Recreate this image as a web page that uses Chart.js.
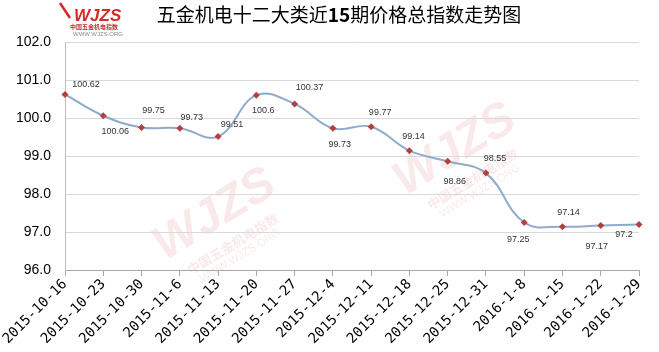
<!DOCTYPE html>
<html><head><meta charset="utf-8">
<script src="https://cdn.jsdelivr.net/npm/chart.js@4/dist/chart.umd.min.js"></script>
<style>html,body{margin:0;padding:0;background:#fff}#wrap{width:659px;height:352px;position:relative}</style>
</head><body><div id="wrap"><canvas id="c" width="659" height="352"></canvas></div>
<script>
const categories = ["2015-10-16","2015-10-23","2015-10-30","2015-11-6","2015-11-13","2015-11-20","2015-11-27","2015-12-4","2015-12-11","2015-12-18","2015-12-25","2015-12-31","2016-1-8","2016-1-15","2016-1-22","2016-1-29"];
const indexValues = [100.62,100.06,99.75,99.73,99.51,100.6,100.37,99.73,99.77,99.14,98.86,98.55,97.25,97.14,97.17,97.2];
const yMin = 96.0, yMax = 102.0, yStep = 0.5;
const titleParts = [["五金机电十二大类近",false],["15",true],["期价格总指数走势图",false]];
// label placement offsets (px) relative to each point
const labelDX = [21,12,12,12,14,7,15,7,9,4,7,9,-6,6,-4,-15];
const labelDY = [-10,16,-17,-11,-12,15,-16,16,-14,-14,20,-15,17,-14,21,10];

const decor = {
  id:'decor',
  beforeDraw(chart){
    const ctx = chart.ctx;
    ctx.save();
    function wm(x,y,s){
      ctx.save();
      ctx.translate(x,y);ctx.rotate(-0.55);
      ctx.fillStyle='rgba(225,120,120,0.16)';
      ctx.font='italic bold '+(48*s)+'px "Liberation Sans"';
      ctx.textAlign='center';ctx.textBaseline='middle';
      ctx.fillText('WJZS',0,0);
      ctx.font='bold '+(13*s)+'px "Noto Sans CJK SC"';
      ctx.fillText('中国五金机电指数',0,34*s);
      ctx.font=(11*s)+'px "Liberation Sans"';
      ctx.fillText('WWW.WJZS.ORG',0,48*s);
      ctx.restore();
    }
    wm(215,215,1.0);
    wm(455,150,1.0);
    ctx.restore();
  },
  afterDraw(chart){
    const ctx = chart.ctx;
    ctx.save();
    // logo
    ctx.fillStyle='#d42a2a';
    ctx.font='italic bold 17px "Liberation Sans"';
    ctx.textBaseline='alphabetic';ctx.textAlign='left';
    ctx.fillText('WJZS',74,21);
    ctx.strokeStyle='#d42a2a';ctx.lineWidth=2.5;
    ctx.beginPath();ctx.moveTo(60,3);ctx.lineTo(70,18);ctx.stroke();
    ctx.font='bold 6px "Noto Sans CJK SC"';ctx.fillStyle='#b33';
    ctx.fillText('中国五金机电指数',70,29);
    ctx.font='6px "Liberation Sans"';ctx.fillStyle='#888';
    ctx.fillText('WWW.WJZS.ORG',73,36);
    // title
    ctx.fillStyle='#000';ctx.textBaseline='middle';
    let widths = titleParts.map(p=>{ctx.font=(p[1]?'bold ':'')+'19px "Noto Sans CJK SC"';return ctx.measureText(p[0]).width;});
    let total = widths.reduce((a,b)=>a+b,0);
    let x = 339 - total/2;
    titleParts.forEach((p,i)=>{ctx.font=(p[1]?'bold ':'')+'19px "Noto Sans CJK SC"';ctx.fillText(p[0],x,15);x+=widths[i];});
    // data labels
    const xs = chart.scales.x, ys = chart.scales.y;
    ctx.font='9px "Liberation Sans"';ctx.fillStyle='#333';ctx.textAlign='center';ctx.textBaseline='middle';
    indexValues.forEach((v,i)=>{
      const px = xs.getPixelForValue(i), py = ys.getPixelForValue(v);
      ctx.fillText(String(v), px+labelDX[i], py+labelDY[i]);
    });
    ctx.restore();
  }
};

new Chart(document.getElementById('c'),{
  type:'line',
  data:{labels:categories,datasets:[{
    data:indexValues,
    borderColor:'#8fabc9',borderWidth:2,tension:0.4,
    pointStyle:'rectRot',pointRadius:3.5,pointBackgroundColor:'#b3403f',pointBorderColor:'#b3403f',pointBorderWidth:0,
    fill:false
  }]},
  options:{
    responsive:false,animation:false,
    layout:{padding:{top:42,right:20,left:0,bottom:0}},
    plugins:{legend:{display:false},tooltip:{enabled:false},title:{display:false}},
    scales:{
      x:{
        offset:false,
        grid:{drawOnChartArea:false,drawTicks:true,tickLength:6,color:'#a6a6a6'},
        border:{color:'#a6a6a6'},
        ticks:{color:'#000',font:{family:'"DejaVu Sans Mono"',size:14},maxRotation:45,minRotation:45,autoSkip:false,padding:0},
        afterFit(s){s.height=82;}
      },
      y:{
        min:yMin,max:yMax,
        grid:{color:'#d9d9d9',drawTicks:false},
        border:{color:'#bfbfbf'},
        ticks:{stepSize:yStep,color:'#000',font:{family:'"Liberation Sans"',size:14},padding:14,callback:v=>Number(v).toFixed(1)},
        afterFit(s){s.width=65;}
      }
    }
  },
  plugins:[decor]
});
</script></body></html>
